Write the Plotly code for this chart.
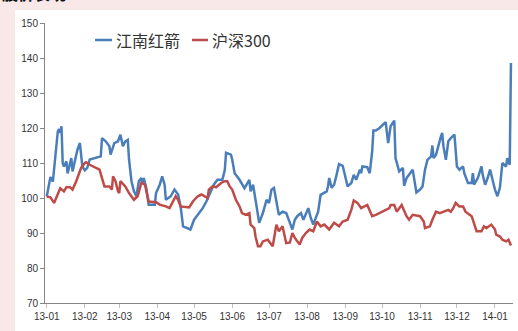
import plotly.graph_objects as go

# 江南红箭 (blue)
jn_dates = ["2013-01-01","2013-01-04","2013-01-06","2013-01-08","2013-01-10","2013-01-11","2013-01-12","2013-01-13",
            "2013-01-14","2013-01-15","2013-01-17","2013-01-18","2013-01-21","2013-01-22","2013-01-25","2013-01-26",
            "2013-01-28","2013-01-29","2013-01-30","2013-02-01","2013-02-03","2013-02-05","2013-02-14","2013-02-15",
            "2013-02-18","2013-02-21","2013-02-22","2013-02-25","2013-02-28","2013-03-02","2013-03-04","2013-03-06",
            "2013-03-08","2013-03-09","2013-03-11","2013-03-13","2013-03-15","2013-03-17","2013-03-19","2013-03-20",
            "2013-03-21","2013-03-23","2013-03-25","2013-03-30","2013-03-31","2013-04-03","2013-04-05","2013-04-07",
            "2013-04-08","2013-04-12","2013-04-15","2013-04-18","2013-04-20","2013-04-22","2013-04-26","2013-04-28",
            "2013-05-01","2013-05-04","2013-05-08","2013-05-11","2013-05-15","2013-05-17","2013-05-20","2013-05-24",
            "2013-05-26","2013-05-27","2013-05-31","2013-06-01","2013-06-03","2013-06-07","2013-06-11","2013-06-15",
            "2013-06-16","2013-06-18","2013-06-20","2013-06-22","2013-06-23","2013-06-26","2013-06-29","2013-07-01",
            "2013-07-03","2013-07-05","2013-07-07","2013-07-09","2013-07-12","2013-07-15","2013-07-18","2013-07-20",
            "2013-07-22","2013-07-24","2013-07-27","2013-07-29","2013-08-02","2013-08-04","2013-08-06","2013-08-08",
            "2013-08-10","2013-08-12","2013-08-17","2013-08-18","2013-08-19","2013-08-21","2013-08-23","2013-08-25",
            "2013-08-27","2013-08-30","2013-08-31","2013-09-02","2013-09-03","2013-09-06","2013-09-08","2013-09-10",
            "2013-09-13","2013-09-14","2013-09-15","2013-09-19","2013-09-21","2013-09-23","2013-09-24","2013-09-26",
            "2013-09-29","2013-10-04","2013-10-06","2013-10-08","2013-10-11","2013-10-12","2013-10-15","2013-10-18",
            "2013-10-19","2013-10-21","2013-10-23","2013-10-26","2013-10-29","2013-11-01","2013-11-03","2013-11-05",
            "2013-11-07","2013-11-10","2013-11-11","2013-11-12","2013-11-14","2013-11-15","2013-11-17","2013-11-18",
            "2013-11-19","2013-11-20","2013-11-22","2013-11-24","2013-11-26","2013-11-29","2013-12-01","2013-12-03",
            "2013-12-06","2013-12-07","2013-12-10","2013-12-13","2013-12-14","2013-12-15","2013-12-18","2013-12-21",
            "2013-12-22","2013-12-24","2013-12-26","2013-12-28","2013-12-30","2014-01-01","2014-01-03","2014-01-05",
            "2014-01-07","2014-01-10","2014-01-11","2014-01-13","2014-01-14"]
jn_values = [100.4,106.0,104.7,112.3,119.0,119.7,118.6,120.5,
             110.0,109.0,110.5,107.0,111.4,107.6,112.9,113.8,
             115.7,111.9,109.0,107.9,108.6,111.0,111.9,117.1,
             116.2,114.8,112.4,115.7,116.2,118.1,114.8,116.2,
             116.6,111.0,104.8,101.9,100.5,104.8,105.7,104.3,
             105.7,102.9,98.1,98.1,101.4,103.8,106.2,103.8,
             99.5,100.5,102.4,101.0,97.6,91.9,91.4,91.0,
             93.8,95.2,97.1,99.0,102.4,103.8,105.2,105.2,
             108.0,112.9,112.4,111.0,107.1,105.2,102.8,105.2,
             101.9,103.8,99.5,95.7,92.9,95.7,99.5,98.6,
             102.4,102.9,99.5,95.2,96.1,95.7,92.9,91.0,
             93.8,94.8,95.7,93.8,97.1,94.3,92.4,94.3,
             96.1,100.9,101.9,103.3,105.7,102.9,103.8,106.6,
             109.7,109.2,107.6,104.3,103.3,104.3,106.6,105.2,
             108.1,107.1,109.0,108.8,107.1,113.3,119.3,119.3,
             120.0,121.7,115.7,120.5,122.1,111.4,107.6,108.6,
             103.5,105.7,106.6,108.1,101.6,102.4,103.3,108.1,
             110.9,111.9,115.0,111.4,112.4,113.8,116.7,117.6,
             118.6,114.8,110.9,116.2,117.1,118.1,109.0,108.1,
             109.0,107.1,104.3,104.3,107.1,103.8,105.7,109.0,
             106.6,103.8,105.7,108.1,105.2,102.4,100.5,102.9,
             110.0,109.0,111.4,109.5,138.6]

# 沪深300 (red)
hs_dates = ["2013-01-01","2013-01-04","2013-01-07","2013-01-10","2013-01-12","2013-01-15","2013-01-17","2013-01-20",
            "2013-01-22","2013-01-25","2013-01-27","2013-01-29","2013-02-01","2013-02-02","2013-02-05","2013-02-10",
            "2013-02-13","2013-02-15","2013-02-17","2013-02-21","2013-02-23","2013-02-24","2013-02-26","2013-02-28",
            "2013-03-01","2013-03-02","2013-03-05","2013-03-06","2013-03-09","2013-03-13","2013-03-16","2013-03-19",
            "2013-03-22","2013-03-24","2013-03-25","2013-03-31","2013-04-03","2013-04-08","2013-04-11","2013-04-16",
            "2013-04-18","2013-04-20","2013-04-27","2013-04-30","2013-05-04","2013-05-07","2013-05-09","2013-05-12",
            "2013-05-13","2013-05-16","2013-05-19","2013-05-23","2013-05-26","2013-05-28","2013-05-30","2013-06-01",
            "2013-06-04","2013-06-07","2013-06-09","2013-06-12","2013-06-15","2013-06-16","2013-06-19","2013-06-20",
            "2013-06-22","2013-06-24","2013-06-26","2013-06-30","2013-07-04","2013-07-07","2013-07-09","2013-07-12",
            "2013-07-15","2013-07-18","2013-07-20","2013-07-22","2013-07-26","2013-07-28","2013-07-31","2013-08-03",
            "2013-08-06","2013-08-09","2013-08-12","2013-08-15","2013-08-19","2013-08-23","2013-08-27","2013-08-30",
            "2013-09-03","2013-09-06","2013-09-08","2013-09-11","2013-09-14","2013-09-19","2013-09-23","2013-09-26",
            "2013-10-07","2013-10-08","2013-10-11","2013-10-13","2013-10-17","2013-10-21","2013-10-23","2013-10-26",
            "2013-11-01","2013-11-04","2013-11-05","2013-11-09","2013-11-11","2013-11-14","2013-11-17","2013-11-24",
            "2013-11-26","2013-11-28","2013-11-30","2013-12-03","2013-12-06","2013-12-08","2013-12-13","2013-12-15",
            "2013-12-17","2013-12-21","2013-12-23","2013-12-25","2013-12-29","2014-01-01","2014-01-02","2014-01-05",
            "2014-01-07","2014-01-10","2014-01-12","2014-01-14"]
hs_values = [100.4,100.2,98.6,101.4,102.8,101.9,103.1,103.1,
             102.4,104.8,106.7,108.6,110.0,110.2,109.5,108.6,
             108.1,105.7,103.3,103.3,102.4,106.2,104.8,101.9,
             101.4,104.8,103.8,103.3,101.4,99.5,100.5,104.3,
             103.8,100.5,99.0,98.8,98.1,97.6,97.1,100.5,
             99.5,97.6,97.3,99.0,100.5,101.0,100.5,100.0,
             102.4,103.3,103.1,104.3,104.8,104.8,103.3,102.4,
             99.5,97.6,95.7,95.2,95.7,92.4,91.4,89.0,
             86.2,86.2,87.6,88.1,86.2,92.4,90.5,91.9,
             87.1,87.3,90.0,88.6,86.7,88.6,90.0,91.0,
             90.5,93.3,91.9,92.4,91.0,92.9,91.9,93.3,
             93.8,96.6,99.3,98.6,97.1,98.0,94.8,95.2,
             97.1,98.0,98.0,96.1,98.0,94.8,93.8,95.2,
             94.8,93.3,91.4,91.9,93.8,96.1,95.7,96.6,
             96.1,97.1,98.6,97.6,97.6,96.1,94.8,92.9,
             90.5,90.5,91.9,91.4,92.4,91.0,89.5,89.0,
             88.1,87.6,88.1,86.4]

y_ticks = [70, 80, 90, 100, 110, 120, 130, 140, 150]
series_names = ["江南红箭", "沪深300"]
colors = ["#4a7ebb", "#be4b48"]

W, H = 518, 331
L, R, T, B = 45, 5, 23, 28
pw, ph = W - L - R, H - T - B

def px_x(p):
    return (p - L) / pw

def px_y(p):
    return 1 - (p - T) / ph

fig = go.Figure()
fig.add_trace(go.Scatter(x=jn_dates, y=jn_values, mode="lines", name=series_names[0],
                         line=dict(color=colors[0], width=2.5), showlegend=False))
fig.add_trace(go.Scatter(x=hs_dates, y=hs_values, mode="lines", name=series_names[1],
                         line=dict(color=colors[1], width=2.5), showlegend=False))

shapes = [
    dict(type="rect", xref="paper", yref="paper", x0=px_x(15), x1=px_x(W + 2), y0=px_y(H + 2), y1=px_y(10),
         fillcolor="white", line=dict(width=0), layer="below"),
    dict(type="line", xref="paper", yref="paper", x0=px_x(95), x1=px_x(112), y0=px_y(40), y1=px_y(40),
         line=dict(color=colors[0], width=2.5)),
    dict(type="line", xref="paper", yref="paper", x0=px_x(192), x1=px_x(208), y0=px_y(40), y1=px_y(40),
         line=dict(color=colors[1], width=2.5)),
]
annotations = [
    dict(text=series_names[0], xref="paper", yref="paper", x=px_x(114), y=px_y(40), xanchor="left",
         yanchor="middle", showarrow=False, font=dict(size=16, color="#333333", family="Noto Sans CJK SC")),
    dict(text=series_names[1], xref="paper", yref="paper", x=px_x(210), y=px_y(40), xanchor="left",
         yanchor="middle", showarrow=False, font=dict(size=16, color="#333333", family="Noto Sans CJK SC")),
    dict(text="<b>股价表现</b>", xref="paper", yref="paper", x=px_x(0), y=px_y(7), xanchor="left",
         yanchor="bottom", showarrow=False, font=dict(size=16, color="#111111", family="Noto Sans CJK SC")),
]

fig.update_layout(
    width=W, height=H,
    margin=dict(l=L, r=R, t=T, b=B, pad=0),
    paper_bgcolor="#f8e8e8",
    plot_bgcolor="white",
    shapes=shapes,
    annotations=annotations,
    font=dict(family="Liberation Sans", size=10, color="#333333"),
    xaxis=dict(type="date", range=["2012-12-30 14:00", "2014-01-15 16:00"], dtick="M1",
               tick0="2013-01-01", tickformat="%y-%m", ticks="outside", ticklen=4, tickcolor="#bfbfbf",
               showline=True, linecolor="#868686", linewidth=1, showgrid=False, zeroline=False,
               tickfont=dict(size=10, color="#333333")),
    yaxis=dict(range=[70, 150], tickvals=y_ticks, ticks="outside", ticklen=4, tickcolor="#868686",
               showline=True, linecolor="#868686", linewidth=1, showgrid=False, zeroline=False,
               tickfont=dict(size=10, color="#333333")),
)

fig.write_html("out.html")
